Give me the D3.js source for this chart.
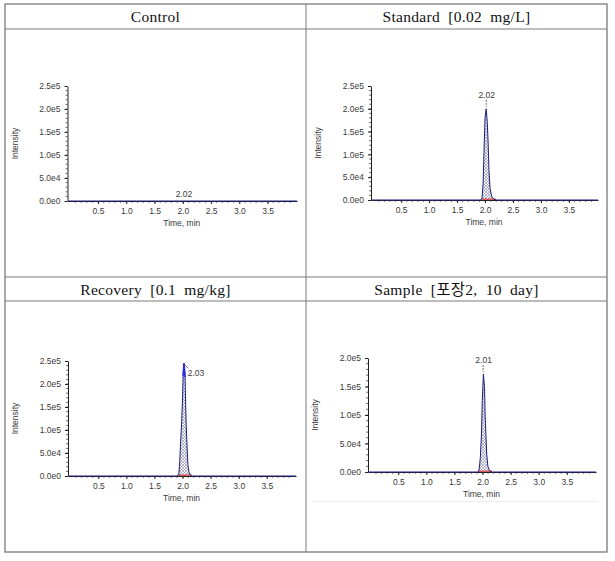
<!DOCTYPE html>
<html>
<head>
<meta charset="utf-8">
<script src="https://cdn.jsdelivr.net/npm/d3@7"></script>
<style>
  html, body { margin: 0; padding: 0; background: #fff; }
  svg { display: block; }
</style>
</head>
<body>
<svg id="chart" width="615" height="561"></svg>
<script>
// ---------------- data ----------------
const titles = ["Control", "Standard [0.02 mg/L]", "Recovery [0.1 mg/kg]", "Sample [포장2, 10 day]"];
const xTickValues = [0.5, 1.0, 1.5, 2.0, 2.5, 3.0, 3.5];
const yTicksHigh = [0, 50000, 100000, 150000, 200000, 250000];
const yTicksHighLabels = ["0.0e0", "5.0e4", "1.0e5", "1.5e5", "2.0e5", "2.5e5"];
const yTicksLow = [0, 50000, 100000, 150000, 200000];
const yTicksLowLabels = ["0.0e0", "5.0e4", "1.0e5", "1.5e5", "2.0e5"];
const yMax = [250000, 250000, 250000, 200000];

const controlTime = [-0.03, 4.02];
const controlIntensity = [0, 0];

const standardTime = [-0.03, 1.92, 1.945, 1.965, 1.985, 2.00, 2.02, 2.04, 2.055, 2.07, 2.09, 2.12, 2.16, 2.20, 4.02];
const standardIntensity = [0, 0, 4000, 35000, 125000, 180000, 200000, 170000, 125000, 65000, 25000, 7000, 1500, 0, 0];

const recoveryTime = [-0.03, 1.91, 1.935, 1.95, 1.965, 1.985, 2.00, 2.01, 2.025, 2.045, 2.055, 2.065, 2.08, 2.095, 2.115, 2.14, 2.17, 4.02];
const recoveryIntensity = [0, 0, 6000, 32000, 72000, 120000, 170000, 218000, 245000, 215000, 155000, 110000, 65000, 25000, 8000, 2000, 0, 0];

const sampleTime = [-0.03, 1.92, 1.94, 1.96, 1.98, 1.995, 2.015, 2.035, 2.045, 2.06, 2.075, 2.095, 2.12, 2.17, 4.02];
const sampleIntensity = [0, 0, 5000, 25000, 65000, 125000, 172000, 150000, 100000, 65000, 30000, 10000, 3000, 0, 0];

const retentionTimes = [2.02, 2.02, 2.03, 2.01];
const retentionLabels = ["2.02", "2.02", "2.03", "2.01"];
const peakTops = [0, 200000, 245000, 172000];
const integrationStart = [null, 1.94, 1.92, 1.93];
const integrationEnd = [null, 2.20, 2.16, 2.17];

// ---------------- layout ----------------
const svg = d3.select("#chart");
const tableColor = "#7a7a7a";
const T = { left: 5, right: 607, top: 4, bottom: 552, mid: 306, h1: 29, row: 277, h2: 301 };

// pattern for hatching
const defs = svg.append("defs");
const pat = defs.append("pattern").attr("id", "hatch").attr("patternUnits", "userSpaceOnUse")
  .attr("width", 3).attr("height", 3);
pat.append("rect").attr("width", 3).attr("height", 3).attr("fill", "#f6f6fa");
pat.append("path").attr("d", "M0,0 L3,3 M3,0 L0,3").attr("stroke", "#7a7a98").attr("stroke-width", 0.5);

// table
const tbl = svg.append("g");
tbl.append("rect").attr("x", T.left).attr("y", T.top).attr("width", T.right - T.left).attr("height", T.bottom - T.top)
  .attr("fill", "none").attr("stroke", tableColor).attr("stroke-width", 1.3);
[[T.mid, T.top, T.mid, T.bottom], [T.left, T.h1, T.right, T.h1], [T.left, T.row, T.right, T.row], [T.left, T.h2, T.right, T.h2]]
  .forEach(l => tbl.append("line").attr("x1", l[0]).attr("y1", l[1]).attr("x2", l[2]).attr("y2", l[3])
    .attr("stroke", tableColor).attr("stroke-width", 1));

const titlePos = [[155.5, 21.5], [456.5, 21.5], [155.5, 294.5], [456.5, 294.5]];
titles.forEach((t, i) => {
  svg.append("text").attr("x", titlePos[i][0]).attr("y", titlePos[i][1])
    .attr("text-anchor", "middle")
    .attr("font-family", "'Liberation Serif', 'Noto Sans CJK KR', serif")
    .attr("font-size", 15.5).attr("word-spacing", 4).attr("letter-spacing", 0.3)
    .attr("fill", "#111").text(t);
});

// panel plot rects: x0, x1, yBase, yTop
const panels = [
  { x0: 67.5, x1: 297, y0: 201, y1: 86 },
  { x0: 371, x1: 598, y0: 200, y1: 86 },
  { x0: 68, x1: 296, y0: 476, y1: 361 },
  { x0: 368, x1: 596, y0: 472, y1: 358 }
];
const seriesTime = [controlTime, standardTime, recoveryTime, sampleTime];
const seriesInt = [controlIntensity, standardIntensity, recoveryIntensity, sampleIntensity];
const yTickSets = [yTicksHigh, yTicksHigh, yTicksHigh, yTicksLow];
const yLabelSets = [yTicksHighLabels, yTicksHighLabels, yTicksHighLabels, yTicksLowLabels];

const font = "'Liberation Sans', Arial, sans-serif";
const textCol = "#3a3a3a";
const fs = 8.5;

panels.forEach((p, i) => {
  const g = svg.append("g");
  const x = d3.scaleLinear().domain([-0.04, 4.02]).range([p.x0, p.x1]);
  const y = d3.scaleLinear().domain([0, yMax[i]]).range([p.y0, p.y1]);

  // faint line in sample image
  if (i === 3) {
    g.append("line").attr("x1", 313).attr("x2", 598).attr("y1", 501.5).attr("y2", 501.5)
      .attr("stroke", "#ececec").attr("stroke-width", 1);
  }

  // x axis
  const xAxis = d3.axisBottom(x).tickValues(xTickValues).tickFormat(d3.format(".1f")).tickSize(3).tickSizeOuter(0);
  const xg = g.append("g").attr("transform", `translate(0,${p.y0})`).call(xAxis);
  xg.select(".domain").attr("stroke", "#222").attr("stroke-width", 1);
  xg.selectAll(".tick line").attr("stroke", "#222");
  xg.selectAll(".tick text").attr("font-family", font).attr("font-size", fs).attr("fill", textCol).attr("dy", "0.85em");
  // minor x ticks
  const minorX = d3.range(0.1, 4.0, 0.1);
  g.append("g").selectAll("line").data(minorX).join("line")
    .attr("x1", d => x(d)).attr("x2", d => x(d)).attr("y1", p.y0).attr("y2", p.y0 + 1.8)
    .attr("stroke", "#333").attr("stroke-width", 0.8);

  // y axis
  const yAxis = d3.axisLeft(y).tickValues(yTickSets[i]).tickFormat((d, k) => yLabelSets[i][k]).tickSize(3).tickSizeOuter(0);
  const yg = g.append("g").attr("transform", `translate(${p.x0},0)`).call(yAxis);
  yg.select(".domain").attr("stroke", "#222").attr("stroke-width", 1);
  yg.selectAll(".tick line").attr("stroke", "#222");
  yg.selectAll(".tick text").attr("font-family", font).attr("font-size", fs).attr("fill", textCol).attr("dx", "-1");
  const minorY = d3.range(10000, yMax[i], 10000);
  g.append("g").selectAll("line").data(minorY).join("line")
    .attr("x1", p.x0 - 1.8).attr("x2", p.x0).attr("y1", d => y(d)).attr("y2", d => y(d))
    .attr("stroke", "#333").attr("stroke-width", 0.8);

  // axis titles
  g.append("text").attr("x", (p.x0 + p.x1) / 2 - 0.5).attr("y", p.y0 + 25)
    .attr("text-anchor", "middle").attr("font-family", font).attr("font-size", fs).attr("fill", textCol).text("Time, min");
  const ix = p.x0 - 50, iy = (p.y0 + p.y1) / 2;
  g.append("text").attr("transform", `translate(${ix},${iy}) rotate(-90)`)
    .attr("text-anchor", "middle").attr("font-family", font).attr("font-size", fs).attr("fill", textCol).text("Intensity");

  // data
  const pts = seriesTime[i].map((t, k) => [t, seriesInt[i][k]]);
  const area = d3.area().x(d => x(d[0])).y0(y(0)).y1(d => y(d[1]));
  const line = d3.line().x(d => x(d[0])).y(d => y(d[1]));
  g.append("path").datum(pts).attr("d", area).attr("fill", "url(#hatch)");
  // integration baseline
  if (integrationStart[i] !== null) {
    g.append("line").attr("x1", x(integrationStart[i])).attr("x2", x(integrationEnd[i]))
      .attr("y1", y(0) - 0.8).attr("y2", y(0) - 0.8).attr("stroke", "#d83a3a").attr("stroke-width", 1.2);
  }
  g.append("path").datum(pts).attr("d", line).attr("fill", "none")
    .attr("stroke", "#1c1f7c").attr("stroke-width", 1.0).attr("stroke-linejoin", "round");

  // retention labels
  const rt = retentionTimes[i];
  const lab = g.append("text").attr("font-family", font).attr("font-size", fs).attr("fill", textCol).text(retentionLabels[i]);
  if (i === 0) {
    lab.attr("x", x(rt)).attr("y", y(0) - 4).attr("text-anchor", "middle");
  } else if (i === 2) {
    // top highlight
    const topPts = pts.filter(d => d[1] >= 215000);
    g.append("path").datum(topPts).attr("d", line).attr("fill", "none")
      .attr("stroke", "#2a2ae8").attr("stroke-width", 1.6);
    g.append("line").attr("x1", x(rt) - 1).attr("y1", y(peakTops[i]))
      .attr("x2", x(rt) + 4).attr("y2", y(peakTops[i]) + 5).attr("stroke", "#555").attr("stroke-width", 0.8);
    lab.attr("x", x(rt) + 3.5).attr("y", y(peakTops[i]) + 13).attr("text-anchor", "start");
  } else {
    lab.attr("x", x(rt) + 0.5).attr("y", y(peakTops[i]) - 11).attr("text-anchor", "middle");
    g.append("line").attr("x1", x(rt)).attr("x2", x(rt)).attr("y1", y(peakTops[i]) - 9).attr("y2", y(peakTops[i]) - 2)
      .attr("stroke", "#444").attr("stroke-width", 0.8).attr("stroke-dasharray", "2,1");
  }
});
</script>
</body>
</html>
